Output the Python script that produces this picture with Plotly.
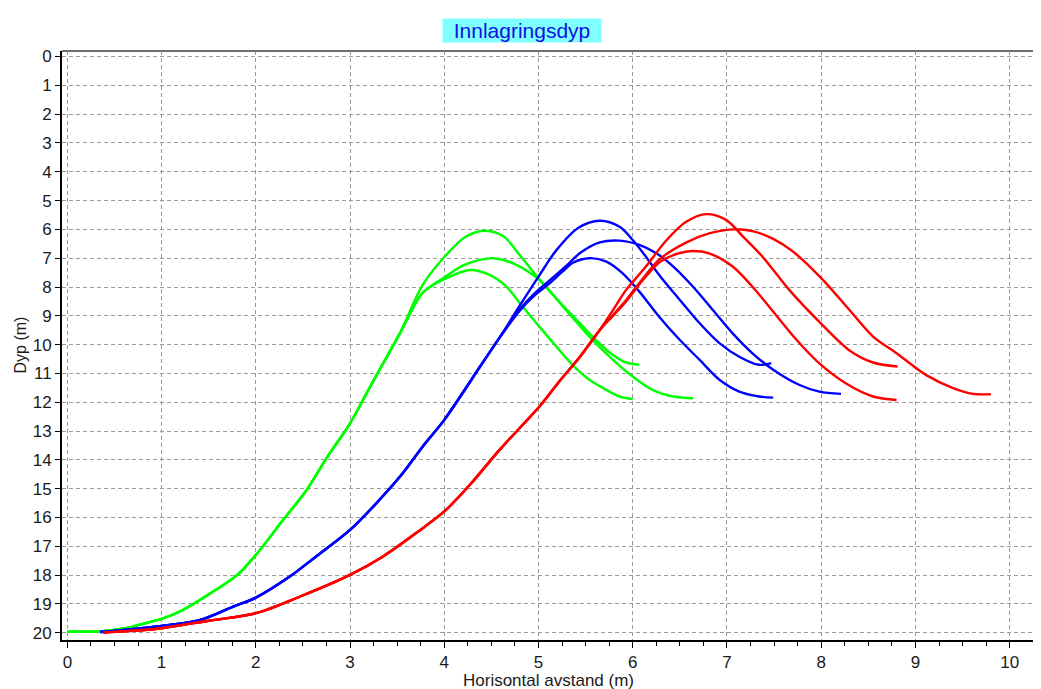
import plotly.graph_objects as go

# ---------------- data ----------------
# Green group: common rising part, then three branches
green_up_x = [0.0, 0.35, 0.6, 0.88, 1.0, 1.23, 1.58, 1.8, 2.0, 2.29, 2.54, 2.75, 3.0, 3.14, 3.26, 3.53]
green_up_y = [19.96, 19.95, 19.85, 19.62, 19.52, 19.2, 18.5, 18.0, 17.3, 16.08, 15.04, 13.94, 12.73, 11.9, 11.18, 9.6]
green1_x = [3.77, 4.02, 4.23, 4.44, 4.63, 4.8, 5.0, 5.22, 5.44, 5.61, 5.79, 5.93, 6.07]
green1_y = [7.93, 6.89, 6.25, 6.05, 6.25, 6.89, 7.7, 8.51, 9.26, 9.84, 10.36, 10.62, 10.70]
green2_x = [3.77, 3.90, 4.02, 4.20, 4.38, 4.52, 4.73, 5.01, 5.26, 5.54, 5.79, 6.0, 6.21, 6.43, 6.64]
green2_y = [8.2, 7.88, 7.62, 7.25, 7.06, 7.0, 7.18, 7.76, 8.68, 9.72, 10.53, 11.11, 11.57, 11.80, 11.86]
green3_x = [3.77, 4.02, 4.27, 4.48, 4.66, 4.83, 5.01, 5.19, 5.36, 5.54, 5.72, 5.86, 6.0]
green3_y = [8.2, 7.70, 7.41, 7.58, 7.99, 8.68, 9.38, 10.07, 10.7, 11.22, 11.57, 11.80, 11.89]

# Blue group
blue_up_x = [0.35, 0.6, 1.0, 1.41, 1.76, 2.0, 2.36, 2.64, 3.0, 3.28, 3.53, 3.77, 4.0, 4.38, 4.59]
blue_up_y = [19.97, 19.9, 19.76, 19.55, 19.09, 18.78, 18.05, 17.35, 16.43, 15.5, 14.58, 13.54, 12.61, 10.76, 9.74]
blue1_x = [4.80, 5.0, 5.19, 5.42, 5.65, 5.86, 6.0, 6.14, 6.28, 6.50, 6.71, 6.92, 7.13, 7.34, 7.47]
blue1_y = [8.65, 7.64, 6.72, 5.95, 5.70, 5.91, 6.37, 6.95, 7.58, 8.45, 9.26, 9.95, 10.42, 10.70, 10.64]
blue2_x = [4.80, 4.95, 5.10, 5.30, 5.44, 5.65, 5.86, 6.07, 6.25, 6.43, 6.64, 6.85, 7.06, 7.27, 7.49, 7.77, 7.98, 8.21]
blue2_y = [8.78, 8.25, 7.82, 7.25, 6.82, 6.45, 6.39, 6.54, 6.83, 7.29, 7.99, 8.80, 9.61, 10.3, 10.87, 11.4, 11.63, 11.71]
blue3_x = [4.80, 4.95, 5.10, 5.26, 5.37, 5.54, 5.72, 5.89, 6.07, 6.28, 6.50, 6.71, 6.92, 7.13, 7.34, 7.49]
blue3_y = [8.82, 8.32, 7.92, 7.45, 7.15, 7.0, 7.12, 7.52, 8.16, 9.03, 9.84, 10.53, 11.22, 11.63, 11.80, 11.84]

# Red group
red_up_x = [0.38, 0.6, 1.0, 1.5, 2.0, 2.47, 3.0, 3.35, 3.70, 4.0, 4.27, 4.6, 5.01, 5.22, 5.44, 5.65]
red_up_y = [19.99, 19.95, 19.84, 19.58, 19.32, 18.74, 17.99, 17.35, 16.54, 15.79, 14.87, 13.6, 12.15, 11.28, 10.42, 9.49]
red1_x = [5.79, 5.93, 6.14, 6.36, 6.57, 6.78, 6.99, 7.17, 7.38, 7.66, 7.98, 8.30, 8.55, 8.81]
red1_y = [8.80, 8.1, 7.29, 6.37, 5.73, 5.47, 5.67, 6.25, 6.96, 8.1, 9.21, 10.2, 10.62, 10.76]
red2_x = [5.79, 5.93, 6.11, 6.28, 6.57, 6.81, 7.06, 7.27, 7.49, 7.70, 8.02, 8.30, 8.55, 8.80, 9.11, 9.40, 9.61, 9.80]
red2_y = [8.97, 8.45, 7.70, 7.05, 6.45, 6.14, 6.0, 6.06, 6.33, 6.77, 7.76, 8.80, 9.72, 10.3, 11.05, 11.51, 11.71, 11.72]
red3_x = [5.79, 5.93, 6.11, 6.28, 6.39, 6.50, 6.64, 6.81, 7.06, 7.27, 7.42, 7.74, 7.98, 8.26, 8.55, 8.80]
red3_y = [9.0, 8.5, 7.75, 7.15, 6.95, 6.82, 6.75, 6.83, 7.29, 7.99, 8.57, 9.84, 10.65, 11.34, 11.80, 11.92]

x_ticks = list(range(0, 11))
y_ticks = list(range(0, 21))

groups = [
    ("#00FF00", green_up_x, green_up_y, [(green1_x, green1_y), (green2_x, green2_y), (green3_x, green3_y)]),
    ("#0000FF", blue_up_x, blue_up_y, [(blue1_x, blue1_y), (blue2_x, blue2_y), (blue3_x, blue3_y)]),
    ("#FF0000", red_up_x, red_up_y, [(red1_x, red1_y), (red2_x, red2_y), (red3_x, red3_y)]),
]

fig = go.Figure()
for color, ux, uy, branches in groups:
    for bx, by in branches:
        fig.add_trace(go.Scatter(
            x=ux + bx, y=uy + by, mode="lines",
            line=dict(color=color, width=2.4, shape="spline", smoothing=0.9),
            showlegend=False, hoverinfo="skip",
        ))

font_family = "Liberation Sans, Arial, sans-serif"
grid_col = "#9a9a9a"
txt_col = "#1a1a1a"

# the page body has an 8px margin, so the figure is offset by 8px right/down
fig.update_layout(
    width=1041, height=689,
    margin=dict(l=54, r=15, t=43, b=57, autoexpand=False),
    paper_bgcolor="white", plot_bgcolor="white",
    font=dict(family=font_family, color=txt_col),
    showlegend=False,
)
fig.update_xaxes(
    range=[-0.057, 10.258], tickvals=x_ticks, ticktext=[str(v) for v in x_ticks],
    automargin=False,
    showgrid=True, gridcolor=grid_col, griddash="4px,3px", gridwidth=1,
    zeroline=False, showline=True, linecolor="black", linewidth=2,
    ticks="outside", ticklen=6, tickcolor="black", tickwidth=1,
    tickfont=dict(size=17, family=font_family, color=txt_col),
    minor=dict(dtick=0.25, tick0=0, ticks="outside", ticklen=4, tickcolor="black", showgrid=False),
)
fig.update_yaxes(
    range=[20.25, -0.19], tickvals=y_ticks, ticktext=[str(v) for v in y_ticks],
    automargin=False,
    showgrid=True, gridcolor=grid_col, griddash="4px,3px", gridwidth=1,
    zeroline=False, showline=True, linecolor="black", linewidth=2,
    ticks="outside", ticklen=5, tickcolor="black", tickwidth=1,
    tickfont=dict(size=17, family=font_family, color=txt_col),
)

# top and right frame (gray)
fig.add_shape(type="line", xref="paper", yref="paper", x0=0, x1=1, y0=1, y1=1,
              line=dict(color="#707070", width=2))
fig.add_shape(type="line", xref="paper", yref="paper", x0=1, x1=1, y0=0, y1=1,
              line=dict(color="#707070", width=2))

# axis titles
fig.add_annotation(text="Horisontal avstand (m)", xref="paper", yref="paper",
                   x=0.5, y=-0.068, xanchor="center", yanchor="middle", showarrow=False,
                   font=dict(size=17, family=font_family, color=txt_col))
fig.add_annotation(text="Dyp (m)", xref="paper", yref="paper", textangle=-90,
                   x=-0.0432, y=0.5, xanchor="center", yanchor="middle", showarrow=False,
                   font=dict(size=16, family=font_family, color=txt_col))

fig.add_annotation(
    text="Innlagringsdyp", xref="paper", yref="paper", x=0.4733, y=1.0345,
    xanchor="center", yanchor="middle", showarrow=False,
    font=dict(size=21, family=font_family, color="#1010E0"),
    bgcolor="#80FFFF", borderpad=0, width=158, height=23,
)

fig.write_html("out.html")
